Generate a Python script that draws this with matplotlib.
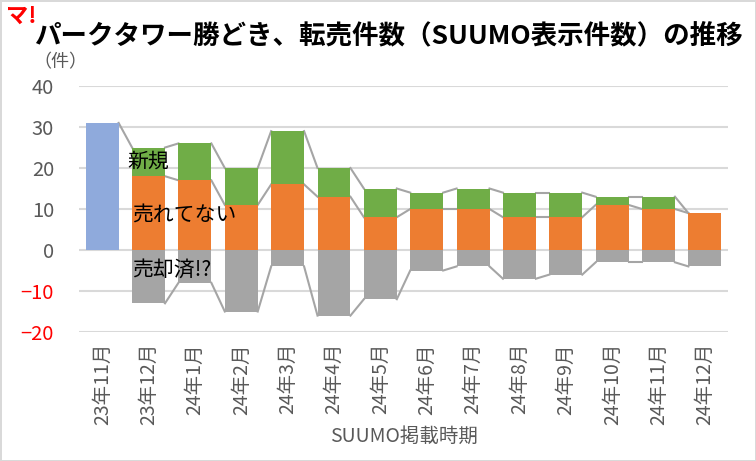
import numpy as np
import matplotlib
matplotlib.use("Agg")
import matplotlib.pyplot as plt

plt.rcParams['font.family'] = ['Noto Sans CJK JP', 'DejaVu Sans']

months = ['23年11月', '23年12月', '24年1月', '24年2月', '24年3月', '24年4月', '24年5月',
          '24年6月', '24年7月', '24年8月', '24年9月', '24年10月', '24年11月', '24年12月']
start = [31, 0, 0, 0, 0, 0, 0, 0, 0, 0, 0, 0, 0, 0]
unsold = [0, 18, 17, 11, 16, 13, 8, 10, 10, 8, 8, 11, 10, 9]
new = [0, 7, 9, 9, 13, 7, 7, 4, 5, 6, 6, 2, 3, 0]
sold = [0, 13, 8, 15, 4, 16, 12, 5, 4, 7, 6, 3, 3, 4]

blue = '#8FAADC'
orange = '#ED7D31'
green = '#70AD47'
grey = '#A5A5A5'
txt = '#595959'

x = np.arange(len(months))
start = np.array(start)
unsold = np.array(unsold)
new = np.array(new)
sold = np.array(sold)
total = start + unsold + new
w = 0.71

fig = plt.figure(figsize=(7.56, 4.61), dpi=100)
fig.patch.set_edgecolor('#D9D9D9')
fig.patch.set_linewidth(2)
ax = fig.add_axes([0.1045, 0.2798, 0.8585, 0.5336])

ax.bar(x[:1], start[:1], width=w, color=blue, zorder=3)
ax.bar(x[1:], unsold[1:], width=w, color=orange, zorder=3)
ax.bar(x[1:], new[1:], bottom=unsold[1:], width=w, color=green, zorder=3)
ax.bar(x[1:], -sold[1:], width=w, color=grey, zorder=3)

# series lines between neighbouring bars
for i in range(len(months) - 1):
    xs = [x[i] + w / 2, x[i + 1] - w / 2]
    ax.plot(xs, [total[i], total[i + 1]], color=grey, lw=1.5, zorder=2)
    if i >= 1:
        ax.plot(xs, [unsold[i], unsold[i + 1]], color=grey, lw=1.5, zorder=2)
        ax.plot(xs, [-sold[i], -sold[i + 1]], color=grey, lw=1.5, zorder=2)

ax.set_xlim(-0.5, len(months) - 0.5)
ax.set_ylim(-20, 40)
ax.set_yticks(range(-20, 41, 10))
ax.grid(axis='y', color='#D9D9D9', lw=1.5, zorder=0)
for s in ax.spines.values():
    s.set_visible(False)
ax.tick_params(length=0)
ax.tick_params(axis='y', labelsize=14.5, labelcolor=txt, pad=18)
for lab in ax.get_yticklabels():
    if lab.get_text().startswith(('-', '−')):
        lab.set_color('red')
ax.set_xticks(x)
ax.set_xticklabels(months, rotation=90, fontsize=14, color=txt)
ax.tick_params(axis='x', pad=8)
ax.set_xlabel('SUUMO掲載時期', fontsize=14, color=txt, labelpad=0)

ax.text(0.55, 21.6, '新規', fontsize=15, va='center', ha='left', zorder=5)
ax.text(0.65, 8.5, '売れてない', fontsize=15, va='center', ha='left', zorder=5)
ax.text(0.65, -4.7, '売却済!?', fontsize=15, va='center', ha='left', zorder=5)

fig.text(0.045, 0.922, 'パークタワー勝どき、転売件数（SUUMO表示件数）の推移',
         fontsize=19.1, fontweight='bold', va='center', ha='left')
fig.text(0.008, 0.965, 'マ!', fontsize=16, fontweight='bold', color='red', va='center', ha='left')
fig.text(0.044, 0.866, '（件）', fontsize=13, color=txt, va='center', ha='left')

fig.savefig('out.png', dpi=100)
